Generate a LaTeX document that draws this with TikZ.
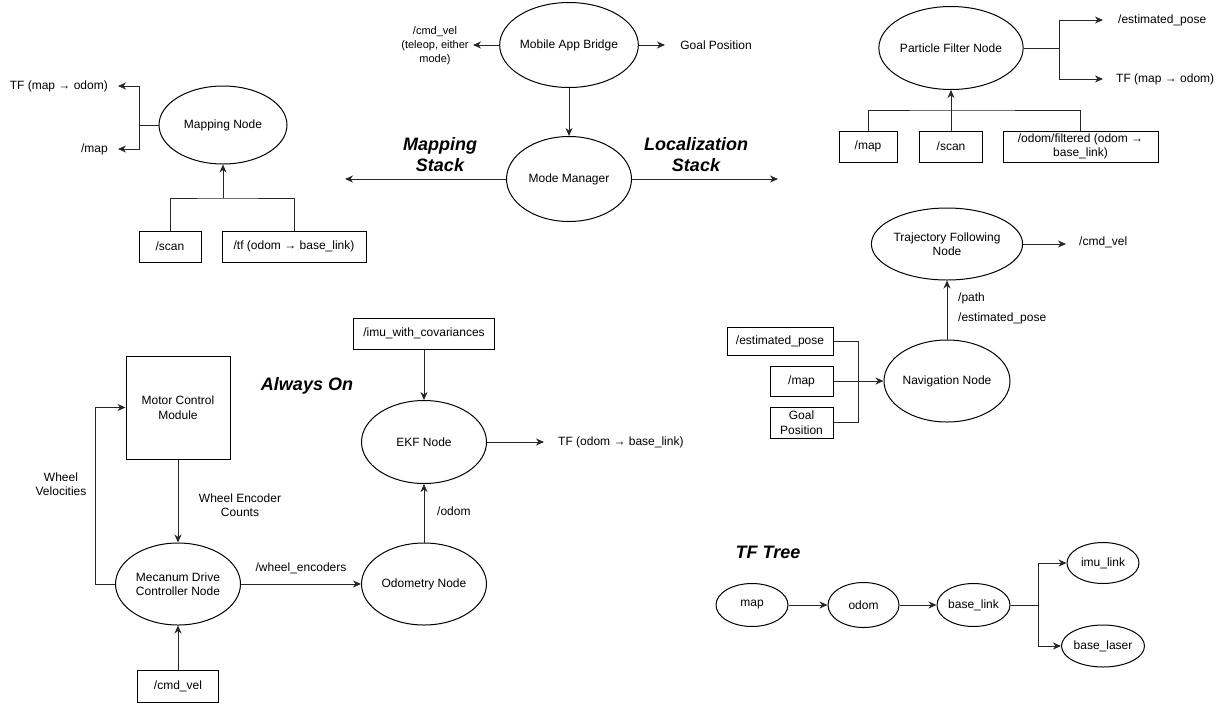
\documentclass[tikz,border=0pt]{standalone}
\usepackage{fontspec}
\setmainfont{Liberation Sans}
\usetikzlibrary{shapes.geometric,arrows.meta}
\tikzset{
  base/.style={font=\fontsize{12}{14.5}\selectfont, align=center, inner sep=0pt, text=black},
  ell/.style={base, draw=black, ellipse, line width=1pt},
  box/.style={base, draw=black, rectangle, line width=1pt},
  conn/.style={line width=1pt, draw=black!85, -{Stealth[length=8pt,width=7pt,inset=2.5pt]}},
  wire/.style={line width=1pt, draw=black!85},
  lbl/.style={base},
  ttl/.style={font=\fontsize{18}{21}\selectfont\bfseries\itshape, align=center, inner sep=0pt}
}
\begin{document}
\begin{tikzpicture}[x=1pt,y=-1pt]
\useasboundingbox (0,0) rectangle (1228,705);

% ---------- top centre ----------
\node[ell, minimum width=125, minimum height=85] (bridge) at (569,45) {Mobile App Bridge};
\node[lbl, font=\fontsize{11}{14}\selectfont] (cmdvelT) at (435,46) {/cmd\_vel\\(teleop, either\\mode)};
\coordinate (cmdTip) at (473,45);
\draw[conn] (bridge.west) -- (cmdTip);
\node[lbl] (goalT) at (716,45) {Goal Position};
\coordinate (goalTip) at (665,45);
\draw[conn] (bridge.east) -- (goalTip);

\node[ell, minimum width=125, minimum height=85] (mode) at (569,179) {Mode Manager};
\draw[conn] (bridge) -- (mode);
\coordinate (mapStackTip) at (345,179);
\coordinate (locStackTip) at (778,179);
\draw[conn] (mode.west) -- (mapStackTip);
\draw[conn] (mode.east) -- (locStackTip);
\node[ttl] (tMap) at (440,155) {Mapping\\Stack};
\node[ttl] (tLoc) at (696,155) {Localization\\Stack};

% ---------- mapping node ----------
\node[ell, minimum width=128, minimum height=78] (mapping) at (223,125) {Mapping Node};
\coordinate (mj) at (139,125);
\coordinate (mTFtip) at (118,86);
\coordinate (mMapTip) at (118,149);
\draw[wire] (mapping.west) -- (mj);
\draw[conn] (mj) |- (mTFtip);
\draw[conn] (mj) |- (mMapTip);
\node[lbl, anchor=east] (mTF) at (108,86) {TF (map → odom)};
\node[lbl, anchor=east] (mMap) at (108,149) {/map};
\node[box, minimum width=62, minimum height=31] (mscan) at (170,246.5) {/scan};
\node[box, minimum width=144, minimum height=31] (mtf) at (294,246.5) {/tf (odom → base\_link)};
\coordinate (mjb) at (223,198);
\draw[wire] (mscan.north) |- (mjb) -| (mtf.north);
\draw[conn] (mjb) -- (mapping.south);

% ---------- particle filter ----------
\node[ell, minimum width=126, minimum height=83] (pf) at (951,48) {Particle Filter Node};
\coordinate (pfj) at (1059,48);
\coordinate (pfEstTip) at (1103,20);
\coordinate (pfTFTip) at (1103,79);
\draw[wire] (pf.east) -- (pfj);
\draw[conn] (pfj) |- (pfEstTip);
\draw[conn] (pfj) |- (pfTFTip);
\node[lbl, anchor=west] (pfEst) at (1118,20) {/estimated\_pose};
\node[lbl, anchor=west] (pfTF) at (1116,79) {TF (map → odom)};
\node[box, minimum width=58, minimum height=31] (pmap) at (868,146.5) {/map};
\node[box, minimum width=63, minimum height=31] (pscan) at (951,146.5) {/scan};
\node[box, minimum width=155, minimum height=31] (podom) at (1080.5,146.5) {/odom/filtered (odom →\\base\_link)};
\coordinate (pfjb) at (951,110);
\draw[wire] (pmap.north) |- (pfjb) -| (podom.north);
\draw[conn] (pscan.north) -- (pf.south);

% ---------- trajectory / navigation ----------
\node[ell, minimum width=126, minimum height=72] (traj) at (947,244) {Trajectory Following\\Node};
\coordinate (trajTip) at (1066,244);
\draw[conn] (traj.east) -- (trajTip);
\node[lbl, anchor=west] (trajCmd) at (1079,242) {/cmd\_vel};
\node[ell, minimum width=126, minimum height=82] (nav) at (947,381) {Navigation Node};
\draw[conn] (nav) -- (traj);
\node[lbl, anchor=west] (lPath) at (958,298) {/path};
\node[lbl, anchor=west] (lEst) at (958,318) {/estimated\_pose};
\node[box, minimum width=106, minimum height=28] (nest) at (780,341) {/estimated\_pose};
\node[box, minimum width=63, minimum height=30] (nmap) at (801.5,381) {/map};
\node[box, minimum width=63, minimum height=31] (ngoal) at (801.5,422.5) {Goal\\Position};
\coordinate (nj) at (858,381);
\draw[wire] (nest.east) -| (nj);
\draw[wire] (ngoal.east) -| (nj);
\draw[conn] (nmap.east) -- (nav.west);

% ---------- always on ----------
\node[ttl] (tAlways) at (307,386) {Always On};
\node[box, minimum width=104, minimum height=103] (motor) at (178,407.5) {Motor Control\\Module};
\node[ell, minimum width=125, minimum height=82] (mec) at (178,584) {Mecanum Drive\\Controller Node};
\draw[conn] (motor) -- (mec);
\node[lbl] (lWEC) at (240,505) {Wheel Encoder\\Counts};
\coordinate (wvx) at (95,584);
\draw[conn] (mec.west) -- (wvx) |- (motor.west);
\node[lbl] (lWV) at (61,484) {Wheel\\Velocities};
\node[box, minimum width=81, minimum height=32] (mcmd) at (178,686) {/cmd\_vel};
\draw[conn] (mcmd) -- (mec);
\node[ell, minimum width=125, minimum height=82] (odo) at (424,584) {Odometry Node};
\draw[conn] (mec) -- (odo);
\node[lbl] (lWE) at (301,568) {/wheel\_encoders};
\node[ell, minimum width=125, minimum height=83] (ekf) at (424,442) {EKF Node};
\node[box, minimum width=141, minimum height=31] (imu) at (424,333.5) {/imu\_with\_covariances};
\draw[conn] (imu) -- (ekf);
\draw[conn] (odo) -- (ekf);
\node[lbl, anchor=west] (lOdom) at (437,511) {/odom};
\coordinate (ekfTip) at (544,442);
\draw[conn] (ekf.east) -- (ekfTip);
\node[lbl, anchor=west] (ekfTF) at (558,442) {TF (odom → base\_link)};

% ---------- TF tree ----------
\node[ttl] (tTF) at (768,552) {TF Tree};
\node[ell, minimum width=72, minimum height=43] (tmap) at (752,605) {map};
\node[ell, minimum width=71, minimum height=45] (todom) at (863.5,605) {odom};
\node[ell, minimum width=73, minimum height=43] (tbase) at (973.5,605) {base\_link};
\node[ell, minimum width=72, minimum height=41] (timu) at (1103,563) {imu\_link};
\node[ell, minimum width=72, minimum height=42] (tlaser) at (1103,646) {base\_laser};
\draw[conn] (tmap) -- (todom);
\draw[conn] (todom) -- (tbase);
\coordinate (tj) at (1038,605);
\draw[wire] (tbase.east) -- (tj);
\draw[conn] (tj) |- (timu.west);
\draw[conn] (tj) |- (tlaser.west);
\end{tikzpicture}
\end{document}
